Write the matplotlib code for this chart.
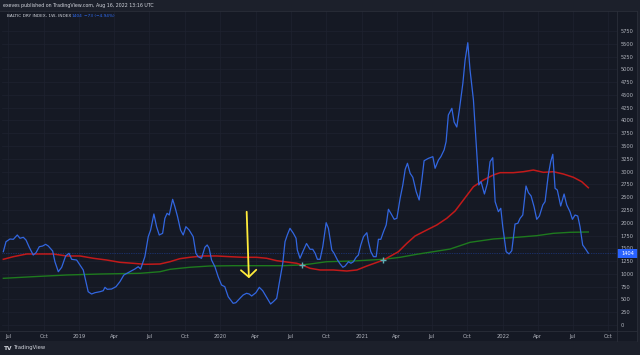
import numpy as np
import matplotlib
matplotlib.use("Agg")
import matplotlib.pyplot as plt
from matplotlib.patches import Rectangle
from matplotlib.transforms import blended_transform_factory
from datetime import datetime

# ---------------- data (decimal years, index values) ----------------
bdi_t = [2018.460, 2018.479, 2018.507, 2018.531, 2018.559, 2018.578, 2018.602, 2018.621, 2018.644, 2018.672,
         2018.692, 2018.715, 2018.739, 2018.760, 2018.779, 2018.810, 2018.826, 2018.850, 2018.874, 2018.902,
         2018.926, 2018.945, 2018.980, 2019.004, 2019.027, 2019.046, 2019.062, 2019.086, 2019.110, 2019.145,
         2019.169, 2019.181, 2019.197, 2019.228, 2019.259, 2019.287, 2019.315, 2019.358, 2019.393, 2019.417,
         2019.434, 2019.464, 2019.488, 2019.505, 2019.528, 2019.547, 2019.566, 2019.590, 2019.606, 2019.622,
         2019.637, 2019.661, 2019.677, 2019.696, 2019.717, 2019.736, 2019.755, 2019.778, 2019.807, 2019.826,
         2019.842, 2019.866, 2019.890, 2019.906, 2019.920, 2019.937, 2019.961, 2019.984, 2020.008, 2020.031,
         2020.055, 2020.090, 2020.109, 2020.138, 2020.161, 2020.185, 2020.204, 2020.221, 2020.251, 2020.275,
         2020.299, 2020.331, 2020.355, 2020.374, 2020.398, 2020.416, 2020.441, 2020.457, 2020.473, 2020.492,
         2020.516, 2020.535, 2020.544, 2020.563, 2020.582, 2020.609, 2020.634, 2020.653, 2020.670, 2020.686,
         2020.705, 2020.724, 2020.748, 2020.764, 2020.788, 2020.804, 2020.828, 2020.847, 2020.866, 2020.882,
         2020.906, 2020.923, 2020.941, 2020.960, 2020.976, 2020.993, 2021.012, 2021.036, 2021.047, 2021.064,
         2021.083, 2021.102, 2021.118, 2021.135, 2021.154, 2021.173, 2021.189, 2021.206, 2021.230, 2021.249,
         2021.272, 2021.291, 2021.308, 2021.324, 2021.343, 2021.362, 2021.386, 2021.407, 2021.426, 2021.442,
         2021.473, 2021.504, 2021.520, 2021.544, 2021.561, 2021.584, 2021.598, 2021.614, 2021.639, 2021.655,
         2021.674, 2021.692, 2021.717, 2021.733, 2021.752, 2021.768, 2021.792, 2021.811, 2021.830, 2021.846,
         2021.870, 2021.891, 2021.910, 2021.929, 2021.946, 2021.969, 2021.986, 2022.000, 2022.024, 2022.045,
         2022.064, 2022.087, 2022.107, 2022.123, 2022.142, 2022.165, 2022.182, 2022.201, 2022.222, 2022.241,
         2022.260, 2022.284, 2022.300, 2022.323, 2022.340, 2022.355, 2022.371, 2022.387, 2022.411, 2022.435,
         2022.454, 2022.477, 2022.494, 2022.513, 2022.532, 2022.548, 2022.567, 2022.584, 2022.607]
bdi_v = [1434, 1629, 1682, 1676, 1760, 1696, 1715, 1662, 1520, 1369,
         1414, 1531, 1545, 1578, 1545, 1447, 1238, 1042, 1129, 1350,
         1402, 1285, 1271, 1173, 1076, 847, 651, 606, 632, 651,
         671, 737, 698, 704, 749, 847, 978, 1042, 1095, 1140,
         1095, 1336, 1727, 1858, 2171, 1923, 1760, 1793, 2087, 2185,
         2151, 2458, 2314, 2118, 1858, 1760, 1923, 1858, 1727, 1402,
         1336, 1305, 1520, 1565, 1500, 1271, 1140, 945, 782, 749,
         553, 424, 436, 522, 587, 620, 606, 567, 632, 737,
         671, 522, 411, 456, 522, 816, 1207, 1629, 1760, 1891,
         1793, 1696, 1467, 1305, 1428, 1594, 1481, 1481, 1402, 1285,
         1285, 1531, 2001, 1891, 1467, 1402, 1271, 1193, 1129, 1154,
         1238, 1207, 1238, 1324, 1369, 1565, 1727, 1805, 1629, 1434,
         1336, 1336, 1676, 1676, 1825, 1956, 2263, 2185, 2067, 2087,
         2478, 2738, 3045, 3163, 2967, 2889, 2607, 2445, 2836, 3213,
         3260, 3292, 3065, 3227, 3292, 3423, 3585, 4107, 4238, 3970,
         3872, 4205, 4727, 5183, 5521, 4987, 4401, 3554, 2738, 2803,
         2562, 2771, 3194, 3272, 2412, 2216, 2282, 1923, 1434, 1389,
         1453, 1975, 1989, 2087, 2151, 2719, 2588, 2523, 2314, 2067,
         2132, 2347, 2412, 2934, 3194, 3339, 2674, 2640, 2327, 2562,
         2347, 2216, 2067, 2151, 2132, 1923, 1565, 1500, 1404]

ma_red_t = [2018.460, 2018.531, 2018.626, 2018.720, 2018.814, 2018.909, 2019.004, 2019.098, 2019.193, 2019.287,
            2019.381, 2019.464, 2019.571, 2019.642, 2019.712, 2019.783, 2019.878, 2019.973, 2020.067, 2020.161,
            2020.256, 2020.327, 2020.398, 2020.469, 2020.540, 2020.587, 2020.634, 2020.705, 2020.799, 2020.894,
            2020.965, 2021.036, 2021.154, 2021.260, 2021.320, 2021.378, 2021.461, 2021.532, 2021.603, 2021.662,
            2021.721, 2021.792, 2021.863, 2021.933, 2021.981, 2022.075, 2022.146, 2022.217, 2022.288, 2022.359,
            2022.430, 2022.501, 2022.560, 2022.607]
ma_red_v = [1285, 1336, 1389, 1389, 1389, 1350, 1350, 1305, 1271, 1226,
            1207, 1187, 1193, 1238, 1297, 1324, 1350, 1350, 1336, 1324,
            1324, 1305, 1258, 1232, 1207, 1164, 1109, 1076, 1076, 1056,
            1076, 1154, 1271, 1434, 1598, 1741, 1858, 1956, 2087, 2230,
            2445, 2705, 2836, 2934, 2979, 2979, 2998, 3031, 2986, 2998,
            2953, 2889, 2803, 2685]

ma_green_t = [2018.460, 2018.672, 2018.909, 2019.145, 2019.429, 2019.571, 2019.642, 2019.783, 2019.925, 2020.090,
              2020.256, 2020.445, 2020.563, 2020.634, 2020.752, 2020.941, 2021.154, 2021.272, 2021.390, 2021.508,
              2021.627, 2021.768, 2021.933, 2022.099, 2022.241, 2022.359, 2022.477, 2022.607]
ma_green_v = [913, 945, 978, 997, 1011, 1042, 1089, 1129, 1154, 1160,
              1160, 1160, 1173, 1193, 1238, 1252, 1285, 1324, 1383, 1434,
              1486, 1617, 1682, 1715, 1747, 1793, 1813, 1819]

cross_t = [2020.575, 2021.149]
cross_v = [1173, 1271]

arrow_t = [2020.185, 2020.202]
arrow_v = [2269, 861]

last_value = 1404
y_ticks = list(range(0, 6000, 250))
x_tick_dates = [(2018, 7), (2018, 10), (2019, 1), (2019, 4), (2019, 7), (2019, 10), (2020, 1), (2020, 4),
                (2020, 7), (2020, 10), (2021, 1), (2021, 4), (2021, 7), (2021, 10), (2022, 1), (2022, 4),
                (2022, 7), (2022, 10)]
x_tick_labels = ["Jul", "Oct", "2019", "Apr", "Jul", "Oct", "2020", "Apr", "Jul", "Oct", "2021", "Apr",
                 "Jul", "Oct", "2022", "Apr", "Jul", "Oct"]


def yr2dt(t):
    y = int(np.floor(t))
    s = datetime(y, 1, 1)
    e = datetime(y + 1, 1, 1)
    return s + (e - s) * (t - y)


# ---------------- figure ----------------
W, H = 640, 355
fig = plt.figure(figsize=(6.4, 3.55), dpi=100)
fig.patch.set_facecolor("#1c202b")

def fx(px):
    return px / W

def fy(py):
    return 1 - py / H

CHART_BG = "#151924"
BORDER = "#2a2e39"
TXT = "#b2b5be"

# chart background (including time and price axis bands) as a bottom-layer axes
bg = fig.add_axes([0, fy(341), fx(637), fy(11) - fy(341)], zorder=-5)
bg.set_facecolor(CHART_BG)
bg.set_xticks([])
bg.set_yticks([])
for s in bg.spines.values():
    s.set_visible(False)

ax = fig.add_axes([fx(2), fy(331), fx(617) - fx(2), fy(11) - fy(331)], zorder=1)
ax.set_facecolor(CHART_BG)
for s in ax.spines.values():
    s.set_visible(False)

ax.set_ylim((325 - 331) * 19.558, (325 - 11) * 19.558)
ax.set_xlim(yr2dt(2018.4506), yr2dt(2022.8104))

ax.set_yticks(y_ticks)
ax.set_yticklabels([str(v) for v in y_ticks])
ax.yaxis.tick_right()
xt = [datetime(y, m, 1) for (y, m) in x_tick_dates]
ax.set_xticks(xt)
ax.set_xticklabels(x_tick_labels)
ax.tick_params(axis="y", length=0, pad=2.4, labelsize=3.7, colors=TXT)
ax.tick_params(axis="x", length=0, pad=2.2, labelsize=3.7, colors=TXT)
ax.grid(True, color="#1e2230", lw=0.5)
ax.set_axisbelow(True)

# lines
ax.plot([yr2dt(t) for t in ma_green_t], ma_green_v, color="#1e7a1e", lw=1.0, zorder=3)
ax.plot([yr2dt(t) for t in ma_red_t], ma_red_v, color="#c21a1a", lw=1.1, zorder=3)
ax.plot([yr2dt(t) for t in bdi_t], bdi_v, color="#3266e0", lw=0.9, zorder=4)
ax.plot([yr2dt(t) for t in cross_t], cross_v, linestyle="none", marker="+", ms=4, mew=1.0,
        color="#5fb0b7", zorder=5)

# last price line
ax.axhline(last_value, color="#2962ff", lw=0.5, ls=(0, (1, 1.5)), alpha=0.6, zorder=2)

# yellow arrow
ax.annotate("", xy=(yr2dt(arrow_t[1]), arrow_v[1]), xytext=(yr2dt(arrow_t[0]), arrow_v[0]),
            arrowprops=dict(arrowstyle="->,head_length=0.5,head_width=0.55", color="#ffeb3b", lw=1.3),
            zorder=6)

# price label on the right axis
tr = blended_transform_factory(ax.transAxes, ax.transData)
ax.add_patch(Rectangle((1.0, last_value - 85), 0.034, 170, transform=tr, facecolor="#2962ff",
                       edgecolor="none", clip_on=False, zorder=7))
ax.text(1.017, last_value, str(last_value), transform=tr, color="white", fontsize=3.7,
        ha="center", va="center", zorder=8, clip_on=False)

# separators
for xs, ys in [([fx(617), fx(617)], [fy(11), fy(341)]),
               ([0, fx(637)], [fy(331), fy(331)]),
               ([0, fx(637)], [fy(11), fy(11)]),
               ([fx(637), fx(637)], [fy(11), fy(341)])]:
    fig.add_artist(plt.Line2D(xs, ys, transform=fig.transFigure, color=BORDER, lw=0.6, zorder=10))

# header and legend texts
fig.text(fx(3), fy(6), "exeves published on TradingView.com, Aug 16, 2022 13:16 UTC",
         fontsize=3.4, color="#d1d4dc", va="center", ha="left")
fig.text(fx(7), fy(16), "BALTIC DRY INDEX, 1W, INDEX", fontsize=3.1, color="#d1d4dc",
         va="center", ha="left", zorder=10)
fig.text(fx(72), fy(16), "1404", fontsize=3.1, color="#2f6df6", va="center", ha="left", zorder=10)
fig.text(fx(84), fy(16), "\u221273 (\u22124.94%)", fontsize=3.1, color="#2f6df6", va="center",
         ha="left", zorder=10)

# footer
fig.text(fx(4), fy(348), "TV", fontsize=4.2, color="#d1d4dc", va="center", ha="left", weight="bold")
fig.text(fx(14), fy(348), "TradingView", fontsize=3.8, color="#d1d4dc", va="center", ha="left")

fig.savefig("out.png", dpi=100, facecolor=fig.get_facecolor())
